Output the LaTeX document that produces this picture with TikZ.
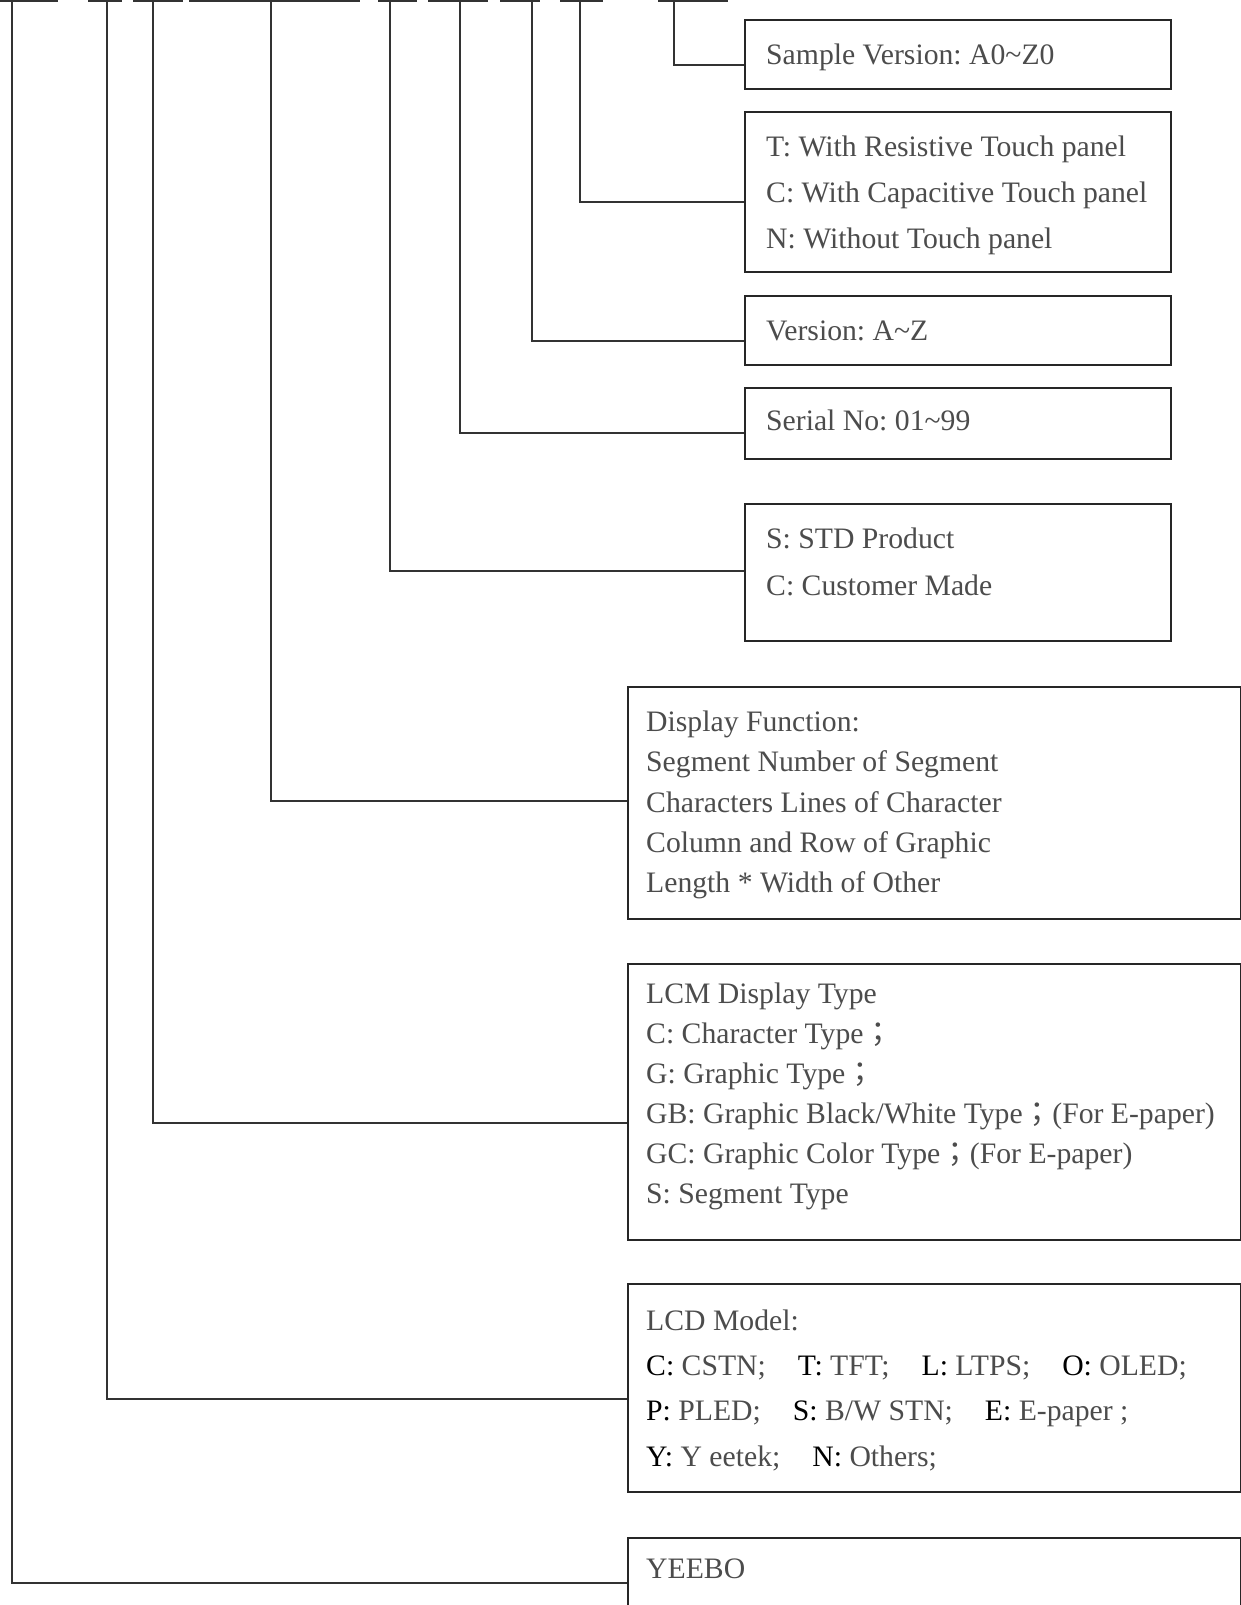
\documentclass[tikz,border=0pt]{standalone}
\usepackage{fontspec}
\setmainfont{Liberation Serif}
\newfontfamily\cjk{Noto Sans CJK TC}
\usepackage{tikz}
\usetikzlibrary{positioning}
\frenchspacing

\newcommand{\keyltr}[1]{\textcolor{black}{#1}}
\newcommand{\lgap}{\hspace{32pt}}

\begin{document}
\begin{tikzpicture}[x=1pt, y=-1pt,
  box/.style={draw=black!85, line width=2pt, inner sep=0pt, anchor=north west},
  smallbox/.style={box, minimum width=426pt},
  widebox/.style={box, minimum width=613pt},
  wire/.style={draw=black!80, line width=1.6pt},
  txt/.style={anchor=base west, inner sep=0pt, text=black!70, font=\fontsize{29.7}{32}\selectfont}]

  \clip (0,0) rectangle (1241,1605);

  % Kaesten
  \node[smallbox, minimum height=69pt] (sver) at (744,19) {};
  \node[smallbox, minimum height=160pt] (touch) at (744,111) {};
  \node[smallbox, minimum height=69pt] (ver) at (744,295) {};
  \node[smallbox, minimum height=71pt] (serial) at (744,387) {};
  \node[smallbox, minimum height=137pt] (prod) at (744,503) {};
  \node[widebox, minimum height=232pt] (func) at (627,686) {};
  \node[widebox, minimum height=276pt] (lcm) at (627,963) {};
  \node[widebox, minimum height=208pt] (lcd) at (627,1283) {};
  \node[widebox, minimum height=120pt] (brand) at (627,1537) {};

  % Texte
  \node[txt] (sver-t) at (766,65) {Sample Version: A0\textasciitilde Z0};
  \node[txt] (touch-t1) at (766,157) {T: With Resistive Touch panel};
  \node[txt] (touch-t2) at (766,203) {C: With Capacitive Touch panel};
  \node[txt] (touch-t3) at (766,249) {N: Without Touch panel};
  \node[txt] (ver-t) at (766,340) {Version: A\textasciitilde Z};
  \node[txt] (serial-t) at (766,430) {Serial No: 01\textasciitilde 99};
  \node[txt] (prod-t1) at (766,548) {S: STD Product};
  \node[txt] (prod-t2) at (766,595) {C: Customer Made};

  \node[txt] (func-t1) at (646,731) {Display Function:};
  \node[txt] (func-t2) at (646,771) {Segment Number of Segment};
  \node[txt] (func-t3) at (646,812) {Characters Lines of Character};
  \node[txt] (func-t4) at (646,852) {Column and Row of Graphic};
  \node[txt] (func-t5) at (646,892) {Length * Width of Other};

  \node[txt] (lcm-t1) at (646,1003) {LCM Display Type};
  \node[txt] (lcm-t2) at (646,1043) {C: Character Type{\cjk ；}};
  \node[txt] (lcm-t3) at (646,1083) {G: Graphic Type{\cjk ；}};
  \node[txt] (lcm-t4) at (646,1123) {GB: Graphic Black/White Type{\cjk ；}(For E-paper)};
  \node[txt] (lcm-t5) at (646,1163) {GC: Graphic Color Type{\cjk ；}(For E-paper)};
  \node[txt] (lcm-t6) at (646,1203) {S: Segment Type};

  \node[txt] (lcd-t1) at (646,1330) {LCD Model:};
  \node[txt] (lcd-t2) at (646,1375) {\keyltr{C:} CSTN;\lgap\keyltr{T:} TFT;\lgap\keyltr{L:} LTPS;\lgap\keyltr{O:} OLED;};
  \node[txt] (lcd-t3) at (646,1420) {\keyltr{P:} PLED;\lgap\keyltr{S:} B/W STN;\lgap\keyltr{E:} E-paper ;};
  \node[txt] (lcd-t4) at (646,1466) {\keyltr{Y:} Y eetek;\lgap\keyltr{N:} Others;};

  \node[txt] (brand-t) at (646,1578) {YEEBO};

  % Striche oben
  \draw[wire] (0,1) -- (58,1) (88,1) -- (122,1) (133,1) -- (183,1) (189,1) -- (360,1)
    (378,1) -- (417,1) (428,1) -- (488,1) (500,1) -- (540,1) (560,1) -- (603,1) (658,1) -- (728,1);

  % Verbindungen
  \coordinate (sver-top) at (674,0);
  \coordinate (touch-top) at (580,0);
  \coordinate (ver-top) at (532,0);
  \coordinate (serial-top) at (460,0);
  \coordinate (prod-top) at (390,0);
  \coordinate (func-top) at (271,0);
  \coordinate (lcm-top) at (153,0);
  \coordinate (lcd-top) at (107,0);
  \coordinate (brand-top) at (12,0);

  \draw[wire] (sver-top) |- (sver.west |- 0,65);
  \draw[wire] (touch-top) |- (touch.west |- 0,202);
  \draw[wire] (ver-top) |- (ver.west |- 0,341);
  \draw[wire] (serial-top) |- (serial.west |- 0,433);
  \draw[wire] (prod-top) |- (prod.west |- 0,571);
  \draw[wire] (func-top) |- (func.west |- 0,801);
  \draw[wire] (lcm-top) |- (lcm.west |- 0,1123);
  \draw[wire] (lcd-top) |- (lcd.west |- 0,1399);
  \draw[wire] (brand-top) |- (brand.west |- 0,1583);

\end{tikzpicture}
\end{document}
